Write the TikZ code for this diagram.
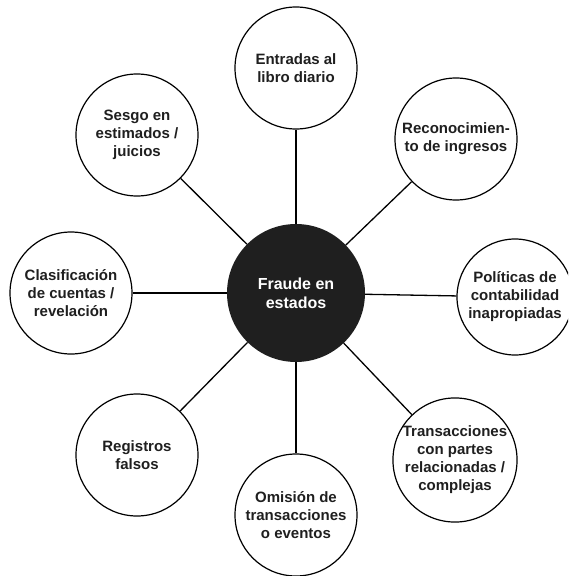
\documentclass[tikz,border=0pt]{standalone}
\usepackage{fontspec}
\setmainfont{Liberation Sans}
\begin{document}
\begin{tikzpicture}[x=1pt,y=-1pt,
  outer/.style={circle,draw=black,line width=1.2pt,fill=white,minimum size=122pt,inner sep=0pt,align=center,
    font=\fontsize{15}{18}\selectfont\bfseries,text=black!88},
  hub/.style={circle,fill=black!88,minimum size=138pt,inner sep=0pt,align=center,
    font=\fontsize{16}{19}\selectfont\bfseries,text=white},
  link/.style={line width=1.3pt,draw=black}]
\clip (0,0) rectangle (568,576);
\fill[white] (0,0) rectangle (568,576);
\node[hub] (c) at (296,293) {Fraude en\\estados};
\node[outer] (n) at (296,68) {Entradas al\\libro diario};
\node[outer] (ne) at (456,139) {Reconocimien-\\to de ingresos};
\node[outer,minimum size=116pt] (e) at (515,297) {Políticas de\\contabilidad\\inapropiadas};
\node[outer] (se) at (455,460) {Transacciones\\con partes\\relacionadas /\\complejas};
\node[outer] (s) at (296,515) {Omisión de\\transacciones\\o eventos};
\node[outer] (sw) at (137,455) {Registros\\falsos};
\node[outer] (w) at (71,293) {Clasificación\\de cuentas /\\revelación};
\node[outer] (nw) at (137,135) {Sesgo en\\estimados /\\juicios};
\foreach \t in {n,ne,e,se,s,sw,w,nw} {\draw[link] (c) -- (\t);}
\end{tikzpicture}
\end{document}
